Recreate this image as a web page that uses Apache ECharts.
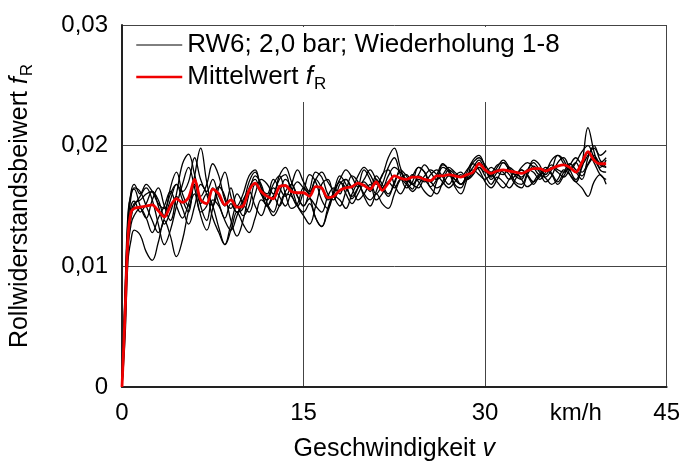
<!DOCTYPE html>
<html>
<head>
<meta charset="utf-8">
<script src="https://cdn.jsdelivr.net/npm/echarts@6/dist/echarts.min.js"></script>
<style>
  html, body { margin: 0; padding: 0; background: #fff; }
  #chart { width: 683px; height: 470px; }
</style>
</head>
<body>
<div id="chart"></div>
<script>
// speed v in km/h (0..1 in 0.25 steps, then 0.5 steps up to 40)
const speed = [
  0, 0.25, 0.5, 0.75, 1,
  1.5, 2, 2.5, 3, 3.5, 4, 4.5, 5, 5.5, 6, 6.5, 7, 7.5, 8, 8.5, 9, 9.5, 10,
  10.5, 11, 11.5, 12, 12.5, 13, 13.5, 14, 14.5, 15, 15.5, 16, 16.5, 17, 17.5, 18, 18.5, 19, 19.5, 20,
  20.5, 21, 21.5, 22, 22.5, 23, 23.5, 24, 24.5, 25, 25.5, 26, 26.5, 27, 27.5, 28, 28.5, 29, 29.5, 30,
  30.5, 31, 31.5, 32, 32.5, 33, 33.5, 34, 34.5, 35, 35.5, 36, 36.5, 37, 37.5, 38, 38.5, 39, 39.5, 40
]

// repetitions 1-8 (rolling resistance coefficient f_R)
const run1 = [
  0, 0.0070, 0.0135, 0.0158, 0.0165,
  0.0162, 0.0150, 0.0138, 0.0128, 0.0140, 0.0165, 0.0178, 0.0160, 0.0150, 0.0175, 0.0198, 0.0170, 0.0150, 0.0165, 0.0178, 0.0158, 0.0145, 0.0152,
  0.0170, 0.0178, 0.0165, 0.0150, 0.0158, 0.0172, 0.0176, 0.0160, 0.0150, 0.0162, 0.0176, 0.0170, 0.0155, 0.0148, 0.0162, 0.0175, 0.0168, 0.0156, 0.0165, 0.0180,
  0.0172, 0.0160, 0.0168, 0.0182, 0.0190, 0.0176, 0.0165, 0.0170, 0.0182, 0.0178, 0.0166, 0.0172, 0.0184, 0.0180, 0.0168, 0.0165, 0.0178, 0.0188, 0.0192, 0.0182,
  0.0172, 0.0178, 0.0186, 0.0180, 0.0170, 0.0168, 0.0178, 0.0188, 0.0184, 0.0174, 0.0180, 0.0192, 0.0188, 0.0176, 0.0170, 0.0185, 0.0215, 0.0195, 0.0180, 0.0178
]
const run2 = [
  0, 0.0055, 0.0118, 0.0140, 0.0150,
  0.0158, 0.0165, 0.0155, 0.0135, 0.0118, 0.0130, 0.0150, 0.0168, 0.0182, 0.0165, 0.0142, 0.0130, 0.0148, 0.0166, 0.0158, 0.0138, 0.0125, 0.0138,
  0.0160, 0.0175, 0.0168, 0.0152, 0.0145, 0.0160, 0.0172, 0.0165, 0.0150, 0.0142, 0.0135, 0.0150, 0.0168, 0.0172, 0.0158, 0.0150, 0.0162, 0.0175, 0.0170, 0.0158,
  0.0150, 0.0162, 0.0176, 0.0180, 0.0168, 0.0160, 0.0168, 0.0176, 0.0170, 0.0162, 0.0158, 0.0170, 0.0182, 0.0178, 0.0166, 0.0160, 0.0172, 0.0185, 0.0180, 0.0170,
  0.0165, 0.0172, 0.0180, 0.0176, 0.0168, 0.0165, 0.0176, 0.0183, 0.0178, 0.0170, 0.0175, 0.0186, 0.0190, 0.0180, 0.0172, 0.0182, 0.0194, 0.0186, 0.0176, 0.0172
]
const run3 = [
  0, 0.0040, 0.0105, 0.0122, 0.0130,
  0.0126, 0.0112, 0.0105, 0.0120, 0.0138, 0.0125, 0.0108, 0.0122, 0.0146, 0.0160, 0.0145, 0.0150, 0.0165, 0.0152, 0.0138, 0.0130, 0.0142, 0.0155,
  0.0162, 0.0150, 0.0142, 0.0155, 0.0168, 0.0175, 0.0160, 0.0148, 0.0152, 0.0165, 0.0158, 0.0140, 0.0133, 0.0148, 0.0162, 0.0170, 0.0160, 0.0152, 0.0160, 0.0168,
  0.0162, 0.0172, 0.0165, 0.0158, 0.0170, 0.0178, 0.0170, 0.0164, 0.0175, 0.0172, 0.0165, 0.0160, 0.0170, 0.0180, 0.0176, 0.0168, 0.0172, 0.0178, 0.0182, 0.0175,
  0.0168, 0.0174, 0.0170, 0.0165, 0.0172, 0.0180, 0.0175, 0.0168, 0.0176, 0.0182, 0.0177, 0.0170, 0.0178, 0.0185, 0.0180, 0.0175, 0.0184, 0.0190, 0.0184, 0.0182
]
const run4 = [
  0, 0.0080, 0.0145, 0.0160, 0.0164,
  0.0150, 0.0140, 0.0155, 0.0165, 0.0150, 0.0138, 0.0160, 0.0185, 0.0193, 0.0176, 0.0158, 0.0168, 0.0185, 0.0175, 0.0155, 0.0148, 0.0160, 0.0152,
  0.0145, 0.0160, 0.0172, 0.0168, 0.0160, 0.0175, 0.0182, 0.0170, 0.0158, 0.0150, 0.0163, 0.0178, 0.0174, 0.0160, 0.0155, 0.0168, 0.0172, 0.0165, 0.0175, 0.0182,
  0.0176, 0.0168, 0.0175, 0.0190, 0.0198, 0.0182, 0.0170, 0.0175, 0.0182, 0.0178, 0.0170, 0.0176, 0.0185, 0.0180, 0.0172, 0.0168, 0.0175, 0.0182, 0.0188, 0.0180,
  0.0175, 0.0182, 0.0188, 0.0182, 0.0175, 0.0172, 0.0180, 0.0178, 0.0172, 0.0178, 0.0188, 0.0192, 0.0185, 0.0180, 0.0186, 0.0195, 0.0200, 0.0190, 0.0182, 0.0188
]
const run5 = [
  0, 0.0060, 0.0125, 0.0145, 0.0152,
  0.0155, 0.0160, 0.0162, 0.0150, 0.0135, 0.0145, 0.0158, 0.0148, 0.0135, 0.0150, 0.0168, 0.0160, 0.0140, 0.0128, 0.0118, 0.0130, 0.0145, 0.0135,
  0.0128, 0.0140, 0.0155, 0.0150, 0.0142, 0.0150, 0.0160, 0.0158, 0.0150, 0.0145, 0.0152, 0.0140, 0.0133, 0.0145, 0.0158, 0.0155, 0.0148, 0.0160, 0.0168, 0.0160,
  0.0155, 0.0160, 0.0152, 0.0148, 0.0160, 0.0172, 0.0176, 0.0168, 0.0165, 0.0172, 0.0170, 0.0165, 0.0168, 0.0175, 0.0172, 0.0168, 0.0175, 0.0180, 0.0176, 0.0172,
  0.0176, 0.0170, 0.0165, 0.0172, 0.0178, 0.0172, 0.0166, 0.0170, 0.0176, 0.0173, 0.0168, 0.0172, 0.0180, 0.0176, 0.0170, 0.0165, 0.0158, 0.0170, 0.0176, 0.0168
]
const run6 = [
  0, 0.0065, 0.0130, 0.0150, 0.0154,
  0.0145, 0.0152, 0.0162, 0.0155, 0.0142, 0.0155, 0.0168, 0.0155, 0.0145, 0.0172, 0.0150, 0.0138, 0.0155, 0.0150, 0.0140, 0.0152, 0.0145, 0.0148,
  0.0165, 0.0172, 0.0160, 0.0155, 0.0165, 0.0158, 0.0150, 0.0162, 0.0170, 0.0165, 0.0160, 0.0172, 0.0165, 0.0155, 0.0160, 0.0170, 0.0165, 0.0158, 0.0165, 0.0170,
  0.0165, 0.0175, 0.0168, 0.0160, 0.0168, 0.0180, 0.0175, 0.0168, 0.0172, 0.0170, 0.0176, 0.0180, 0.0174, 0.0168, 0.0175, 0.0178, 0.0172, 0.0176, 0.0182, 0.0178,
  0.0182, 0.0178, 0.0176, 0.0182, 0.0178, 0.0174, 0.0180, 0.0186, 0.0180, 0.0176, 0.0182, 0.0178, 0.0174, 0.0180, 0.0186, 0.0178, 0.0185, 0.0192, 0.0186, 0.0190
]
const run7 = [
  0, 0.0050, 0.0115, 0.0135, 0.0142,
  0.0148, 0.0140, 0.0128, 0.0140, 0.0150, 0.0162, 0.0150, 0.0140, 0.0152, 0.0168, 0.0152, 0.0160, 0.0150, 0.0132, 0.0118, 0.0135, 0.0150, 0.0142,
  0.0150, 0.0168, 0.0160, 0.0150, 0.0158, 0.0150, 0.0162, 0.0168, 0.0158, 0.0150, 0.0156, 0.0150, 0.0145, 0.0158, 0.0165, 0.0160, 0.0172, 0.0165, 0.0155, 0.0160,
  0.0168, 0.0155, 0.0160, 0.0170, 0.0165, 0.0172, 0.0168, 0.0162, 0.0168, 0.0175, 0.0180, 0.0176, 0.0170, 0.0165, 0.0170, 0.0176, 0.0172, 0.0176, 0.0186, 0.0180,
  0.0174, 0.0180, 0.0178, 0.0172, 0.0175, 0.0180, 0.0176, 0.0170, 0.0174, 0.0180, 0.0176, 0.0168, 0.0175, 0.0182, 0.0178, 0.0172, 0.0190, 0.0200, 0.0188, 0.0182
]
const run8 = [
  0, 0.0075, 0.0140, 0.0162, 0.0168,
  0.0160, 0.0168, 0.0162, 0.0152, 0.0148, 0.0160, 0.0168, 0.0162, 0.0170, 0.0190, 0.0172, 0.0162, 0.0172, 0.0158, 0.0150, 0.0165, 0.0150, 0.0160,
  0.0175, 0.0180, 0.0165, 0.0160, 0.0172, 0.0165, 0.0158, 0.0168, 0.0180, 0.0170, 0.0162, 0.0172, 0.0178, 0.0170, 0.0164, 0.0172, 0.0180, 0.0174, 0.0166, 0.0172,
  0.0180, 0.0172, 0.0165, 0.0175, 0.0182, 0.0178, 0.0172, 0.0168, 0.0176, 0.0184, 0.0178, 0.0172, 0.0176, 0.0182, 0.0178, 0.0174, 0.0180, 0.0186, 0.0190, 0.0184,
  0.0178, 0.0184, 0.0186, 0.0180, 0.0176, 0.0182, 0.0186, 0.0182, 0.0176, 0.0180, 0.0184, 0.0180, 0.0178, 0.0184, 0.0190, 0.0185, 0.0192, 0.0198, 0.0192, 0.0196
]

// mean value f_R
const mean = [
  0, 0.0060, 0.0125, 0.0145, 0.0148,
  0.0149, 0.0150, 0.0151, 0.0146, 0.0141, 0.0150, 0.0156, 0.0153, 0.0157, 0.0172, 0.0155, 0.0152, 0.0164, 0.0160, 0.0151, 0.0155, 0.0149, 0.0150,
  0.0163, 0.0169, 0.0162, 0.0158, 0.0156, 0.0166, 0.0167, 0.0162, 0.0161, 0.0161, 0.0158, 0.0166, 0.0165, 0.0157, 0.0158, 0.0163, 0.0165, 0.0166, 0.0169, 0.0167,
  0.0164, 0.0170, 0.0163, 0.0169, 0.0175, 0.0173, 0.0172, 0.0174, 0.0174, 0.0172, 0.0171, 0.0175, 0.0175, 0.0176, 0.0175, 0.0174, 0.0176, 0.0178, 0.0185, 0.0180,
  0.0177, 0.0179, 0.0180, 0.0179, 0.0178, 0.0177, 0.0179, 0.0181, 0.0181, 0.0179, 0.0181, 0.0183, 0.0184, 0.0182, 0.0178, 0.0186, 0.0195, 0.0188, 0.0185, 0.0185
]

const runs = [run1, run2, run3, run4, run5, run6, run7, run8]

const xTicks = [0, 15, 30, 45]
const yTicks = [0, 0.01, 0.02, 0.03]
const unitLabel = 'km/h'
const runName = 'RW6; 2,0 bar; Wiederholung 1-8'
const meanName = 'Mittelwert fR'

const fontFamily = '"Liberation Sans", Arial, sans-serif'
const pairs = (ys) => speed.map((v, i) => [v, ys[i]])

const series = runs.map((ys) => ({
  name: runName,
  type: 'line',
  data: pairs(ys),
  symbol: 'none',
  smooth: 0.4,
  color: '#000',
  lineStyle: { width: 1.3, color: '#000' },
  emphasis: { disabled: true },
  z: 2,
}))
series.push({
  name: meanName,
  type: 'line',
  data: pairs(mean),
  symbol: 'none',
  smooth: 0.3,
  color: '#f00000',
  lineStyle: { width: 2.8, color: '#f00000' },
  emphasis: { disabled: true },
  z: 3,
})

const chart = echarts.init(document.getElementById('chart'), null, { renderer: 'canvas' })
chart.setOption({
  animation: false,
  textStyle: { fontFamily, color: '#000' },
  grid: { left: 122, right: 15, top: 25, bottom: 83, containLabel: false },
  legend: {
    left: 132,
    top: 27,
    orient: 'vertical',
    backgroundColor: '#fff',
    padding: [4, 6, 9, 3],
    itemGap: 4,
    itemWidth: 46,
    itemHeight: 14,
    itemStyle: { opacity: 0 },
    data: [
      { name: runName, itemStyle: { opacity: 0 }, lineStyle: { width: 1, color: '#000' } },
      { name: meanName, itemStyle: { opacity: 0 }, lineStyle: { width: 2.5, color: '#f00000' } },
    ],
    formatter: (name) => (name === meanName ? '{a|Mittelwert }{i|f}{s|R}' : name),
    textStyle: {
      fontFamily,
      fontSize: 26,
      lineHeight: 28,
      color: '#000',
      rich: {
        a: { fontFamily, fontSize: 26, color: '#000' },
        i: { fontFamily, fontSize: 26, fontStyle: 'italic', color: '#000' },
        s: { fontFamily, fontSize: 17, color: '#000', padding: [15, 0, 0, 1] },
      },
    },
    z: 10,
  },
  xAxis: [
    {
      type: 'value',
      min: xTicks[0],
      max: xTicks[xTicks.length - 1],
      interval: xTicks[1] - xTicks[0],
      name: '{a|Geschwindigkeit }{i|v}',
      nameLocation: 'middle',
      nameGap: 50,
      nameTextStyle: {
        rich: {
          a: { fontFamily, fontSize: 25, color: '#000' },
          i: { fontFamily, fontSize: 25, fontStyle: 'italic', color: '#000' },
        },
      },
      axisLine: { show: true, onZero: false, lineStyle: { color: '#222', width: 2 } },
      axisTick: { show: false },
      axisLabel: { fontFamily, fontSize: 24, color: '#000', margin: 14 },
      splitLine: { show: true, lineStyle: { color: '#444', width: 1 } },
    },
    {
      // unit label sits between 30 and 45
      type: 'value',
      position: 'bottom',
      min: xTicks[0],
      max: xTicks[xTicks.length - 1],
      interval: (xTicks[1] - xTicks[0]) / 2,
      axisLine: { show: false },
      axisTick: { show: false },
      splitLine: { show: false },
      axisLabel: {
        fontFamily,
        fontSize: 24,
        color: '#000',
        margin: 14,
        formatter: (v) => (v === 37.5 ? unitLabel : ''),
      },
    },
  ],
  yAxis: {
    type: 'value',
    min: yTicks[0],
    max: yTicks[yTicks.length - 1],
    interval: yTicks[1] - yTicks[0],
    name: '{a|Rollwiderstandsbeiwert }{i|f}{s|R}',
    nameLocation: 'middle',
    nameRotate: 90,
    nameGap: 86,
    nameTextStyle: {
      rich: {
        a: { fontFamily, fontSize: 25, color: '#000' },
        i: { fontFamily, fontSize: 25, fontStyle: 'italic', color: '#000' },
        s: { fontFamily, fontSize: 17, color: '#000', padding: [14, 0, 0, 1] },
      },
    },
    axisLine: { show: true, lineStyle: { color: '#222', width: 2 } },
    axisTick: { show: false },
    axisLabel: {
      fontFamily,
      fontSize: 24,
      color: '#000',
      margin: 14,
      formatter: (v) => (v === 0 ? '0' : v.toFixed(2).replace('.', ',')),
    },
    splitLine: { show: true, lineStyle: { color: '#444', width: 1 } },
  },
  series,
})
</script>
</body>
</html>
